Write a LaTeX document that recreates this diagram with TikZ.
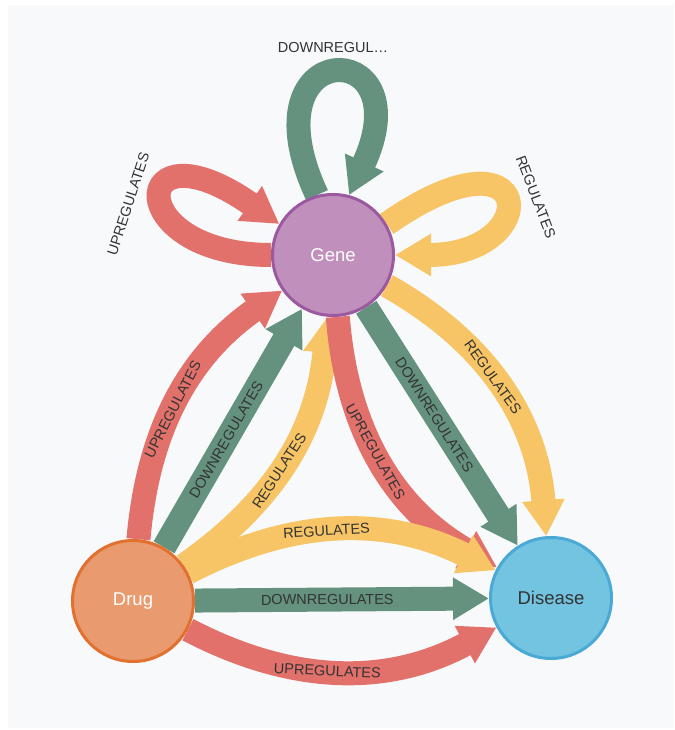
\documentclass[tikz,border=0pt]{standalone}
\usepackage{fontspec}
\setmainfont{Liberation Sans}
\usetikzlibrary{arrows.meta, backgrounds, calc}
\definecolor{panelgray}{RGB}{248,249,251}
\definecolor{genefill}{RGB}{192,143,188}
\definecolor{geneline}{RGB}{155,89,160}
\definecolor{drugfill}{RGB}{233,155,111}
\definecolor{drugline}{RGB}{226,112,47}
\definecolor{diseasefill}{RGB}{114,196,224}
\definecolor{diseaseline}{RGB}{74,170,213}
\definecolor{upred}{RGB}{226,112,107}
\definecolor{downgreen}{RGB}{101,146,126}
\definecolor{regyellow}{RGB}{247,197,101}
\definecolor{labelgray}{RGB}{51,51,51}

\begin{document}
\begin{tikzpicture}[
  x=1pt, y=1pt,
  entity/.style={circle, minimum size=121pt, inner sep=0pt, line width=3pt, font=\fontsize{18.5}{22}\selectfont},
  gene/.style={entity, draw=geneline, fill=genefill, text=white},
  drug/.style={entity, draw=drugline, fill=drugfill, text=white},
  disease/.style={entity, draw=diseaseline, fill=diseasefill, text=labelgray},
  rel/.style={line width=24pt, -{Triangle[length=36pt, width=40pt]}},
  upedge/.style={rel, draw=upred},
  downedge/.style={rel, draw=downgreen},
  regedge/.style={rel, draw=regyellow},
  lbl/.style={font=\fontsize{14.5}{16}\selectfont, text=labelgray, inner sep=1pt},
]
  \useasboundingbox (0,0) rectangle (674,730);

  \node[gene] (gene) at (333,475) {Gene};
  \node[drug] (drug) at (133,129) {Drug};
  \node[disease] (disease) at (551,132) {Disease};

  \begin{scope}[on background layer]
    \fill[white] (0,0) rectangle (674,730);
    \fill[panelgray] (8,2) rectangle (674,725);

    % self loops on gene
    \draw[upedge] (gene.180) .. controls +(180:150) and +(145:185) .. (gene.150)
      node[lbl, rotate=72] at ($(gene)+(166:211)$) {UPREGULATES};
    \draw[downedge] (gene.105) .. controls +(115:178) and +(65:178) .. (gene.75)
      node[lbl] at ($(gene)+(90:207)$) {DOWNREGUL…};
    \draw[regedge] (gene.30) .. controls +(35:185) and +(0:150) .. (gene.0)
      node[lbl, rotate=-69] at ($(gene)+(16:211)$) {REGULATES};

    % drug -> gene
    \draw[upedge] (drug) to[bend left=25] node[lbl, pos=0.45, sloped] {UPREGULATES} (gene);
    \draw[downedge] (drug) -- node[lbl, pos=0.45, sloped] {DOWNREGULATES} (gene);
    \draw[regedge] (drug) to[bend right=25] node[lbl, pos=0.45, sloped] {REGULATES} (gene);

    % gene -> disease
    \draw[upedge] (gene) to[bend right=28] node[lbl, pos=0.45, sloped] {UPREGULATES} (disease);
    \draw[downedge] (gene) -- node[lbl, pos=0.45, sloped] {DOWNREGULATES} (disease);
    \draw[regedge] (gene) to[bend left=28] node[lbl, pos=0.45, sloped] {REGULATES} (disease);

    % drug -> disease
    \draw[regedge] (drug) to[bend left=27] node[lbl, pos=0.45, sloped] {REGULATES} (disease);
    \draw[downedge] (drug) -- node[lbl, pos=0.45, sloped] {DOWNREGULATES} (disease);
    \draw[upedge] (drug) to[bend right=28] node[lbl, pos=0.45, sloped] {UPREGULATES} (disease);
  \end{scope}
\end{tikzpicture}
\end{document}
